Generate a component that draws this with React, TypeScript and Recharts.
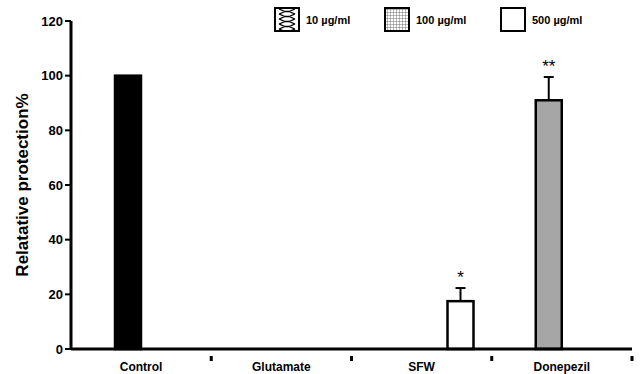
import { BarChart, Bar, XAxis, YAxis } from "recharts"

const categories = ["Control", "Glutamate", "SFW", "Donepezil"]
// reference treatments (Control, Donepezil) share one slot, doses get their own
const standardValues = [100, null, null, 91]
const standardErrors = [0, 0, 0, 8.5]
const standardColors = ["#000000", "#ffffff", "#ffffff", "#a6a6a6"]
const dose10Values = [null, null, null, null]
const dose100Values = [null, null, null, null]
const dose500Values = [null, null, 17.5, null]
const dose500Errors = [0, 0, 4.8, 0]
const significance = ["", "", "*", "**"]
const yTicks = [0, 20, 40, 60, 80, 100, 120]
const legendItems = ["10 µg/ml", "100 µg/ml", "500 µg/ml"]

const W = 640
const H = 374
const margin = { top: 21, right: 8, left: 8, bottom: 0 }
const yAxisWidth = 63
const plotWidth = W - margin.left - margin.right - yAxisWidth
const halfBand = plotWidth / categories.length / 2
const font = "'Liberation Sans', Arial, sans-serif"

const data = categories.map((name, i) => ({
  name,
  d10: dose10Values[i],
  std: standardValues[i],
  stdErr: standardErrors[i],
  stdColor: standardColors[i],
  d100: dose100Values[i],
  d500: dose500Values[i],
  d500Err: dose500Errors[i],
  sig: significance[i],
}))

function makeShape(errKey: string, fixedFill?: string) {
  return (props: any) => {
    const { x, y, width, height, payload, value } = props
    const v = Array.isArray(value) ? value[1] - value[0] : value
    if (v == null || !height) return <g />
    const k = height / v
    const err = payload[errKey] || 0
    const cx = x + width / 2
    const top = y - err * k
    const fill = fixedFill ?? payload.stdColor
    return (
      <g>
        <rect x={x} y={y} width={width} height={height} fill={fill} stroke="#000" strokeWidth={2.5} />
        {err > 0 && (
          <g stroke="#000" strokeWidth={2}>
            <line x1={cx} x2={cx} y1={y} y2={top} />
            <line x1={cx - 5} x2={cx + 5} y1={top} y2={top} />
          </g>
        )}
        {payload.sig && (
          <text x={cx} y={top - 5} textAnchor="middle" fontSize={17} fontFamily={font} fill="#000">
            {payload.sig}
          </text>
        )}
      </g>
    )
  }
}

function XTick(props: any) {
  const { x, y, payload } = props
  return (
    <g>
      <text x={x} y={y + 14} textAnchor="middle" fontSize={12} fontWeight="bold" fontFamily={font} fill="#000">
        {payload.value}
      </text>
      <rect x={x + halfBand - 1.5} y={y - 1} width={3} height={5} fill="#000" />
    </g>
  )
}

function LegendBox() {
  const xs = [275, 385, 501]
  return (
    <svg width={W} height={40} style={{ position: "absolute", left: 0, top: 0 }}>
      <defs>
        <pattern id="zig" x="275" y="9" width="24" height="5" patternUnits="userSpaceOnUse">
          <rect width="24" height="5" fill="#fff" />
          <path d="M4 0 L10 2.5 L14 2.5 L20 0 M4 5 L10 2.5 M14 2.5 L20 5" stroke="#000" strokeWidth="1.3" fill="none" />
        </pattern>
        <pattern id="grid" width="3" height="3" patternUnits="userSpaceOnUse">
          <rect width="3" height="3" fill="#fff" />
          <path d="M0 0 H3 M0 0 V3" stroke="#555" strokeWidth="0.8" />
        </pattern>
      </defs>
      {legendItems.map((label, i) => (
        <g key={label}>
          <rect
            x={xs[i]}
            y={8}
            width={24}
            height={23}
            fill={i === 0 ? "url(#zig)" : i === 1 ? "url(#grid)" : "#fff"}
            stroke="#000"
            strokeWidth={2}
          />
          <text x={xs[i] + 31} y={24} fontSize={11} fontWeight="bold" fontFamily={font} fill="#000">
            {label}
          </text>
        </g>
      ))}
    </svg>
  )
}

export default function App() {
  return (
    <div style={{ position: "absolute", left: 0, top: 0, width: W, height: H, background: "#fff" }}>
      <BarChart width={W} height={H} data={data} margin={margin} barCategoryGap={18} barGap={0}>
        <XAxis
          dataKey="name"
          tickLine={false}
          axisLine={{ stroke: "#000", strokeWidth: 3 }}
          tick={<XTick />}
          height={25}
          interval={0}
        />
        <YAxis
          domain={[0, 120]}
          ticks={yTicks}
          width={yAxisWidth}
          axisLine={{ stroke: "#000", strokeWidth: 3 }}
          tickLine={{ stroke: "#000", strokeWidth: 2 }}
          tickSize={6}
          tick={{ fill: "#000", fontSize: 13, fontWeight: "bold", fontFamily: font }}
          label={(p: any) => {
            const vb = p.viewBox
            const cy = vb.y + vb.height / 2
            return (
              <text
                x={22}
                y={cy}
                transform={`rotate(-90, 22, ${cy})`}
                textAnchor="middle"
                dominantBaseline="central"
                fontSize={17}
                fontWeight="bold"
                fontFamily={font}
                fill="#000"
              >
                Relatative protection%
              </text>
            )
          }}
        />
        <Bar dataKey="d10" isAnimationActive={false} shape={makeShape("none", "url(#zig)")} />
        <Bar dataKey="std" isAnimationActive={false} shape={makeShape("stdErr")} />
        <Bar dataKey="d100" isAnimationActive={false} shape={makeShape("none", "#ddd")} />
        <Bar dataKey="d500" isAnimationActive={false} shape={makeShape("d500Err", "#ffffff")} />
      </BarChart>
      <LegendBox />
    </div>
  )
}
